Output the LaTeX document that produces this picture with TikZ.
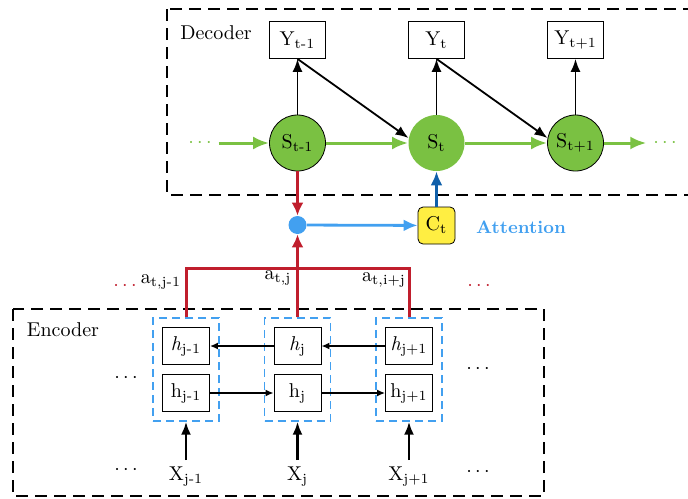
\documentclass[tikz,border=0pt]{standalone}
\usetikzlibrary{arrows.meta}
\definecolor{sgreen}{RGB}{122,193,66}
\definecolor{sred}{RGB}{192,30,45}
\definecolor{lblue}{RGB}{66,160,240}
\definecolor{dblue}{RGB}{15,95,170}
\definecolor{cyellow}{RGB}{255,238,66}
\begin{document}
\begin{tikzpicture}[x=0.5pt,y=-0.5pt,
main/.style = {draw, circle, fill=sgreen, minimum size=28pt, inner sep=0pt},
ybox/.style = {draw, minimum width=28pt, minimum height=18.5pt, inner sep=0pt},
hbox/.style = {draw, fill=white, minimum width=23.5pt, minimum height=18.5pt, inner sep=0pt},
cell/.style = {draw=lblue, line width=0.7pt, dash pattern=on 4pt off 2.5pt, minimum width=33pt, minimum height=51.5pt},
ctbox/.style = {draw, fill=cyellow, rounded corners=2.5pt, minimum size=18.5pt, inner sep=0pt},
dotnode/.style = {circle, fill=lblue, minimum size=9pt, inner sep=0pt},
frame/.style = {line width=1pt, dash pattern=on 6pt off 3.5pt},
garrow/.style = {sgreen, line width=1.5pt, -{Latex[length=8pt,width=6.5pt]}},
karrow/.style = {line width=0.9pt, -{Latex[length=6.5pt,width=5pt]}},
harrow/.style = {line width=0.9pt, -{Latex[length=4pt,width=3.5pt]}},
rline/.style = {sred, line width=1.5pt},
node distance={69.5pt}]
\useasboundingbox (0,0) rectangle (688,498);
\clip (0,0) rectangle (688,498);
\draw[frame] (167,9) rectangle (720,195);
\draw[frame] (13,309) rectangle (544,496);
\node (dec) at (216,33) {Decoder};
\node (enc) at (63,330) {Encoder};
\node[main] (s1) at (297.5,143) {S\textsubscript{t-1}};
\node[main,draw=none] (s2) [right of=s1] {S\textsubscript{t}};
\node[main] (s3) [right of=s2] {S\textsubscript{t+1}};
\node[ybox] (y1) at (297.5,40) {Y\textsubscript{t-1}};
\node[ybox] (y2) [right of=y1] {Y\textsubscript{t}};
\node[ybox] (y3) [right of=y2] {Y\textsubscript{t+1}};
\node[text=sgreen] (g1) at (200,143) {$\cdots$};
\node[text=sgreen] (g2) at (665,143) {$\cdots$};
\node[dotnode] (m) at (297.5,225) {};
\node[ctbox] (c) at (436.5,225.5) {C\textsubscript{t}};
\node[text=lblue, font=\small\bfseries] (att) at (521,227) {Attention};
\node[text=sred] (d1) at (125,286) {$\cdots$};
\node (a1) at (161,282) {a\textsubscript{t,j-1}};
\node (a2) at (278,278) {a\textsubscript{t,j}};
\node (a3) at (384,280) {a\textsubscript{t,i+j}};
\node[text=sred] (d2) at (479,286) {$\cdots$};
\node[cell] (b1) at (186,369.5) {};
\node[cell] (b2) [right of=b1, node distance=55.75pt] {};
\node[cell] (b3) [right of=b2, node distance=55.75pt] {};
\node[hbox] (hb1) at (186,346) {\textit{h}\textsubscript{j-1}};
\node[hbox] (hb2) [right of=hb1, node distance=55.75pt] {\textit{h}\textsubscript{j}};
\node[hbox] (hb3) [right of=hb2, node distance=55.75pt] {\textit{h}\textsubscript{j+1}};
\node[hbox] (hf1) at (186,393) {h\textsubscript{j-1}};
\node[hbox] (hf2) [right of=hf1, node distance=55.75pt] {h\textsubscript{j}};
\node[hbox] (hf3) [right of=hf2, node distance=55.75pt] {h\textsubscript{j+1}};
\node (x1) at (186,477) {X\textsubscript{j-1}};
\node (x2) [right of=x1, node distance=55.75pt] {X\textsubscript{j}};
\node (x3) [right of=x2, node distance=55.75pt] {X\textsubscript{j+1}};
\node (e1) at (126,378) {$\cdots$};
\node (e2) at (126,470) {$\cdots$};
\node (e3) at (478,369) {$\cdots$};
\node (e4) at (478,472) {$\cdots$};
\coordinate (r) at (297.5,268);
\draw[karrow] (s1) -- (y1);
\draw[karrow] (s2) -- (y2);
\draw[karrow] (s3) -- (y3);
\draw[karrow] (y1.south) -- (s2.170);
\draw[karrow] (y2.south) -- (s3.170);
\draw[garrow] (g1) -- (s1);
\draw[garrow] (s1) -- (s2);
\draw[garrow] (s2) -- (s3);
\draw[garrow] (s3) -- (g2);
\draw[rline] (b1.north) -- (b1.north |- r) -- (b3.north |- r) -- (b3.north);
\draw[rline, -{Latex[length=6.5pt,width=6pt]}] (b2.north) -- (m);
\draw[rline, -{Latex[length=6.5pt,width=6pt]}] (s1) -- (m);
\draw[lblue, line width=1.4pt, -{Latex[length=7pt,width=6pt]}] (m) -- (c);
\draw[dblue, line width=1.4pt, -{Latex[length=7pt,width=6pt]}] (c) -- (s2);
\draw[harrow] (hb2) -- (hb1);
\draw[harrow] (hb3) -- (hb2);
\draw[harrow] (hf1) -- (hf2);
\draw[harrow] (hf2) -- (hf3);
\draw[karrow, line width=1.2pt] (x1) -- (b1);
\draw[karrow, line width=1.2pt] (x2) -- (b2);
\draw[karrow, line width=1.2pt] (x3) -- (b3);
\end{tikzpicture}
\end{document}
